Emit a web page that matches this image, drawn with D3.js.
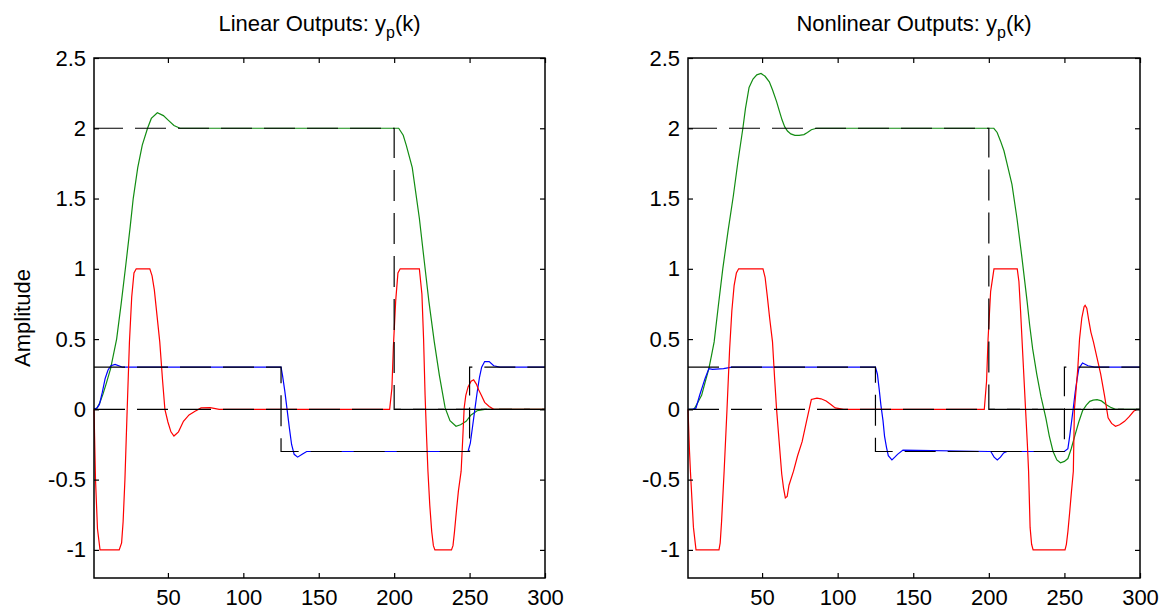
<!DOCTYPE html>
<html>
<head>
<meta charset="utf-8">
<script src="https://cdn.jsdelivr.net/npm/d3@7"></script>
<style>
  body { margin: 0; background: #fff; }
  text { font-family: "Liberation Sans", Arial, sans-serif; fill: #000; }
</style>
</head>
<body>
<div id="chart"></div>
<script>

// axis setup
var xDomain = [1, 300]
var yDomain = [-1.2, 2.5]
var xTicks = [50, 100, 150, 200, 250, 300]
var yTicks = [-1, -0.5, 0, 0.5, 1, 1.5, 2, 2.5]

// reference (setpoint) signals, same in both plots
var ref1K = [1, 200, 200, 300]
var ref1V = [2, 2, 0, 0]
var ref2K = [1, 125, 125, 250, 250, 300]
var ref2V = [0.3, 0.3, -0.3, -0.3, 0.3, 0.3]
var ref3K = [1, 300]
var ref3V = [0, 0]

// linear plant outputs
var linGreenK = [1, 3, 5, 7, 9, 12, 16, 19, 22, 25, 27, 30, 33, 36.5, 39, 43, 47, 50, 54, 58, 203, 206, 208, 212, 216.7, 220, 223, 226.6, 230, 233.8, 237, 241, 244, 247.7, 251, 255, 260, 300]
var linGreenV = [0, 0.01, 0.05, 0.11, 0.18, 0.29, 0.5, 0.75, 1.02, 1.3, 1.5, 1.72, 1.88, 2.0, 2.07, 2.11, 2.09, 2.06, 2.02, 2.0, 2.0, 1.95, 1.88, 1.72, 1.36, 1.05, 0.77, 0.48, 0.24, 0.01, -0.08, -0.12, -0.11, -0.085, -0.04, -0.01, 0, 0]

var linBlueK = [1, 3, 4.6, 6.5, 8.4, 10.3, 12.2, 15, 20, 125, 126, 127.5, 129, 130.5, 132, 133.7, 136, 139, 142, 145, 249, 250.5, 252, 253.5, 255, 256.6, 258, 260, 263, 266, 270, 300]
var linBlueV = [0, 0.01, 0.035, 0.12, 0.22, 0.28, 0.31, 0.32, 0.3, 0.3, 0.24, 0.13, 0.0, -0.13, -0.25, -0.32, -0.34, -0.32, -0.3, -0.3, -0.3, -0.24, -0.12, 0.0, 0.12, 0.23, 0.3, 0.34, 0.34, 0.31, 0.3, 0.3]

var linRedK = [1, 2, 3.3, 5, 17.7, 19.3, 20.3, 21.5, 23, 24.5, 26, 27.5, 29, 38, 39.5, 41, 44.6, 46.5, 48, 50, 52, 54, 57, 60.3, 64, 68, 72, 78, 84, 197, 198.5, 199.5, 201, 202.5, 204, 216.7, 218.4, 219.5, 220.5, 221.5, 222.4, 223.6, 224.9, 226, 227, 238, 239, 240, 241.3, 242.6, 244.4, 245.5, 246.4, 247.5, 249, 251, 252.7, 254.5, 256, 257.8, 260, 263, 266, 300]
var linRedV = [0, -0.5, -0.85, -1, -1, -0.95, -0.8, -0.5, 0, 0.48, 0.8, 0.97, 1, 1, 0.95, 0.85, 0.48, 0.2, 0, -0.09, -0.16, -0.19, -0.16, -0.085, -0.04, -0.014, 0.01, 0.012, 0, 0, 0.15, 0.45, 0.77, 0.97, 1, 1, 0.82, 0.5, 0.1, -0.2, -0.44, -0.68, -0.87, -0.97, -1, -1, -0.97, -0.87, -0.72, -0.58, -0.44, -0.2, 0.01, 0.1, 0.16, 0.2, 0.21, 0.18, 0.14, 0.1, 0.05, 0.02, 0, 0]

// nonlinear plant outputs
var nlGreenK = [1, 3, 5, 8, 10, 12.5, 14.8, 16.5, 18.3, 21, 24, 27.5, 31, 34, 37.3, 39, 41.4, 44, 46.5, 49.3, 52, 54.8, 57, 59.6, 61.5, 63.2, 65, 66.8, 69, 71.7, 74.5, 77.7, 80, 82.6, 86, 203.3, 205.5, 207.7, 210, 212, 215.3, 218.6, 221.9, 225.3, 227, 229, 231.7, 234.5, 237.7, 240, 242.5, 245, 247.4, 250, 252.3, 254.5, 257.1, 259.5, 262, 264.5, 266.8, 269, 271.6, 274.5, 277.7, 280.5, 283.8, 300]
var nlGreenV = [0, 0, 0, 0.06, 0.1, 0.2, 0.29, 0.38, 0.48, 0.73, 1.0, 1.27, 1.52, 1.76, 2.0, 2.14, 2.29, 2.35, 2.38, 2.39, 2.37, 2.33, 2.27, 2.19, 2.12, 2.06, 2.01, 1.98, 1.96, 1.95, 1.95, 1.955, 1.97, 1.99, 2.0, 2.0, 1.97, 1.91, 1.84, 1.75, 1.6, 1.36, 1.08, 0.77, 0.6, 0.43, 0.25, 0.09, -0.06, -0.19, -0.3, -0.36, -0.38, -0.37, -0.35, -0.28, -0.18, -0.09, -0.01, 0.03, 0.057, 0.066, 0.069, 0.06, 0.033, 0.015, 0, 0]

var nlBlueK = [1, 4, 6.3, 8.7, 10.5, 12.3, 14.8, 17.2, 24.5, 30, 125, 126.3, 127.5, 128.6, 130, 131, 132.3, 133.5, 135.9, 137.8, 139.6, 143.2, 200, 201.3, 203.5, 205.6, 207.7, 209.8, 212, 250, 252.3, 253.5, 254.7, 256, 257.1, 258.3, 259.5, 262, 265.6, 270, 300]
var nlBlueV = [0, 0, 0.01, 0.1, 0.16, 0.22, 0.29, 0.285, 0.29, 0.3, 0.3, 0.25, 0.14, 0.03, -0.08, -0.19, -0.27, -0.33, -0.36, -0.34, -0.32, -0.29, -0.3, -0.3, -0.34, -0.36, -0.34, -0.31, -0.3, -0.3, -0.28, -0.19, -0.09, 0.02, 0.12, 0.21, 0.29, 0.33, 0.31, 0.3, 0.3]

var nlRedK = [1, 2, 2.6, 4.6, 6.3, 21.5, 22.3, 23.2, 24.9, 26.8, 28.5, 30, 31.5, 33, 34.5, 50.6, 52, 53.5, 55, 56.9, 58.3, 59.6, 61.3, 63, 64.2, 65.4, 66.6, 67.8, 70.8, 73.5, 76.5, 79.5, 82.6, 86.3, 89, 92.4, 95.5, 98.4, 104, 197, 198.5, 199.5, 201.2, 203.4, 218.8, 219.9, 221, 222.5, 224.3, 225.5, 226.3, 227.3, 228.3, 229.3, 250.4, 251.3, 252.3, 253.5, 254.7, 255.9, 256.6, 257.8, 258.9, 260, 261.5, 263, 263.7, 264.8, 266, 267.5, 269.2, 271.5, 274, 276.5, 278.9, 281.2, 283.8, 286.5, 289.8, 293, 295.8, 298]
var nlRedV = [0, -0.3, -0.44, -0.84, -1, -1, -0.95, -0.8, -0.44, 0, 0.42, 0.7, 0.88, 0.97, 1, 1, 0.94, 0.8, 0.65, 0.48, 0.22, 0, -0.23, -0.46, -0.56, -0.63, -0.62, -0.54, -0.44, -0.33, -0.23, -0.08, 0.07, 0.08, 0.075, 0.06, 0.035, 0.01, 0, 0, 0.2, 0.5, 0.84, 1, 1, 0.91, 0.7, 0.38, 0, -0.25, -0.44, -0.84, -0.96, -1, -1, -0.96, -0.87, -0.73, -0.58, -0.44, 0, 0.15, 0.3, 0.5, 0.65, 0.73, 0.74, 0.72, 0.64, 0.55, 0.48, 0.37, 0.25, 0.1, -0.06, -0.1, -0.12, -0.11, -0.085, -0.05, -0.014, 0]

var colors = { green: "#128c12", blue: "#0000ff", red: "#ff0000" }

var panels = [
    { title: "Linear Outputs: ", left: 94, right: 545, ylabel: true,
      series: [[linGreenK, linGreenV, colors.green], [linBlueK, linBlueV, colors.blue], [linRedK, linRedV, colors.red]] },
    { title: "Nonlinear Outputs: ", left: 688, right: 1140, ylabel: false,
      series: [[nlGreenK, nlGreenV, colors.green], [nlBlueK, nlBlueV, colors.blue], [nlRedK, nlRedV, colors.red]] }
]
var plotTop = 58, plotBottom = 578

var svg = d3.select("#chart")
            .append("svg")
            .attr("width", 1166)
            .attr("height", 614)

function zip(ks, vs) {
    return ks.map(function(k, i) { return [k, vs[i]] })
}

panels.forEach(function(p) {
    var x = d3.scaleLinear().domain(xDomain).range([p.left, p.right])
    var y = d3.scaleLinear().domain(yDomain).range([plotBottom, plotTop])
    var line = d3.line()
        .x(function(d) { return x(d[0]) })
        .y(function(d) { return y(d[1]) })

    var g = svg.append("g")

    // plant outputs
    p.series.forEach(function(s) {
        g.append("path")
            .datum(zip(s[0], s[1]))
            .attr("d", line)
            .style("fill", "none")
            .style("stroke", s[2])
            .style("stroke-width", 1.2)
    })

    // dashed setpoints on top (offset so the two zero lines after k=200 fill each other's gaps)
    ;[[ref3K, ref3V, 0], [ref2K, ref2V, 0], [ref1K, ref1V, 2]].forEach(function(r) {
        g.append("path")
            .datum(zip(r[0], r[1]))
            .attr("d", line)
            .style("fill", "none")
            .style("stroke", "#000")
            .style("stroke-width", 1.2)
            .style("stroke-dasharray", "31,12")
            .style("stroke-dashoffset", r[2])
    })

    var fmt = function(d) { return String(d) }

    g.append("g")
        .attr("transform", "translate(0," + plotBottom + ")")
        .call(d3.axisBottom(x).tickValues(xTicks).tickSize(-5).tickPadding(11).tickFormat(fmt))
    g.append("g")
        .attr("transform", "translate(0," + plotTop + ")")
        .call(d3.axisTop(x).tickValues(xTicks).tickSize(-5).tickFormat(""))
    g.append("g")
        .attr("transform", "translate(" + p.left + ",0)")
        .call(d3.axisLeft(y).tickValues(yTicks).tickSize(-5).tickPadding(8).tickFormat(fmt))
    g.append("g")
        .attr("transform", "translate(" + p.right + ",0)")
        .call(d3.axisRight(y).tickValues(yTicks).tickSize(-5).tickFormat(""))

    g.selectAll(".domain").remove()
    g.selectAll(".tick line").style("stroke", "#000").style("stroke-width", 1.2)
    g.selectAll(".tick text").style("font-size", "22px").style("fill", "#000")

    g.append("rect")
        .attr("x", p.left)
        .attr("y", plotTop)
        .attr("width", p.right - p.left)
        .attr("height", plotBottom - plotTop)
        .style("fill", "none")
        .style("stroke", "#000")
        .style("stroke-width", 1.5)

    var t = g.append("text")
        .attr("x", (p.left + p.right) / 2)
        .attr("y", 31)
        .attr("text-anchor", "middle")
        .style("font-size", "22px")
    t.append("tspan").text(p.title + "y")
    t.append("tspan").attr("dy", 7).style("font-size", "16px").text("p")
    t.append("tspan").attr("dy", -7).text("(k)")

    if (p.ylabel) {
        g.append("text")
            .attr("transform", "translate(30," + (plotTop + plotBottom) / 2 + ") rotate(-90)")
            .attr("text-anchor", "middle")
            .style("font-size", "22px")
            .text("Amplitude")
    }
})

</script>
</body>
</html>
